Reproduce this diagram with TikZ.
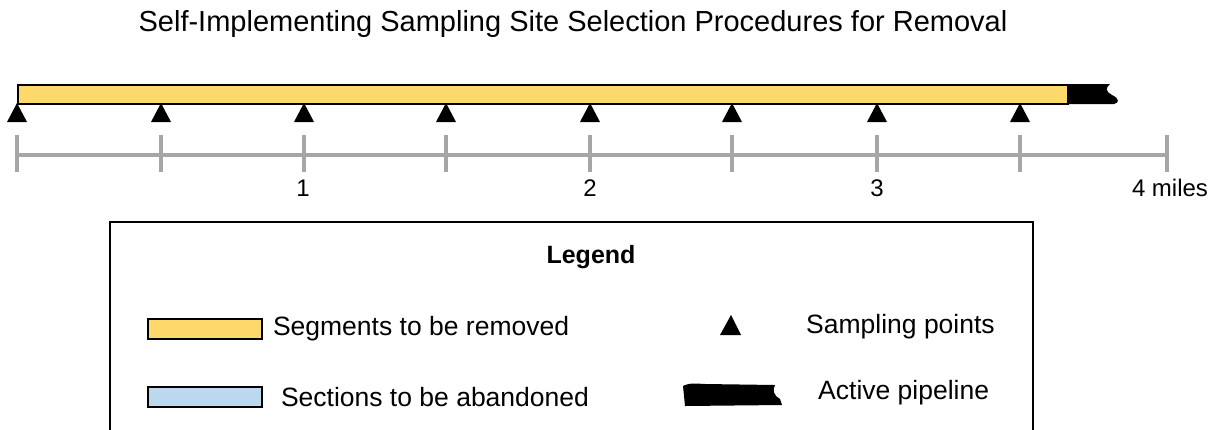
\documentclass[tikz,border=0pt]{standalone}
\usepackage{fontspec}
\setmainfont{Liberation Sans}
\usetikzlibrary{positioning}

\definecolor{segyellow}{RGB}{253,216,107}
\definecolor{abandblue}{RGB}{189,215,238}
\definecolor{scalegray}{RGB}{166,166,166}

\tikzset{
  scaleline/.style={draw=scalegray,line width=3.5pt},
  keybox/.style={draw,line width=1.6pt,minimum width=114pt,minimum height=20pt,inner sep=0pt},
  keytext/.style={font=\fontsize{26.5}{30}\selectfont,inner sep=0pt,anchor=west},
  milelabel/.style={font=\fontsize{24}{28}\selectfont,inner sep=0pt}
}

\begin{document}
\begin{tikzpicture}[x=1pt,y=-1pt]
\useasboundingbox (0,0) rectangle (1212,429);
\clip (0,0) rectangle (1212,429);

\node[font=\fontsize{29}{33}\selectfont,inner sep=0pt] (title) at (573,24) {Self-Implementing Sampling Site Selection Procedures for Removal};

% active pipeline, then the segments to be removed on top
\fill (1060,84) -- (1110,84) .. controls (1105,88) and (1106,92) .. (1112,95)
      .. controls (1119,98) and (1120,103) .. (1114,104) -- (1060,104) -- cycle;
\node[draw,fill=segyellow,line width=1.6pt,minimum width=1050pt,minimum height=19pt,
      inner sep=0pt,anchor=north west] (bar) at (17,84) {};

% sampling points
\foreach \x in {17,161,304,446,590,732,877,1020}
  \fill (\x-10,122) -- (\x+10,122) -- (\x,103) -- cycle;

% scale
\coordinate (s0) at (17,155);
\coordinate (s4) at (1167,155);
\draw[scaleline] (s0) -- (s4);
\foreach \x in {17,161,304,446,590,732,877,1020,1167}
  \draw[scaleline] (\x,135) -- (\x,172);
\foreach \x/\xtext in {303/1,590/2,877/3,1170/4 miles}
  \node[milelabel] at (\x,188) {\xtext};

% legend
\draw[line width=1.6pt] (110,440) -- (110,222) -- (1033,222) -- (1033,440);
\node[font=\bfseries\fontsize{25}{29}\selectfont,inner sep=0pt] (legend) at (591,257) {Legend};

\node[keybox,fill=segyellow] (segkey) at (205,329) {};
\node[keytext,right=10pt of segkey] (segtext) {Segments to be removed};
\node[keybox,fill=abandblue] (abandkey) at (205,397) {};
\node[keytext,right=18pt of abandkey] (abandtext) {Sections to be abandoned};

\fill (720,335) -- (741,335) -- (731,315) -- cycle;
\node[keytext] (samptext) at (806,327) {Sampling points};

\fill (683,386) .. controls (690,382) and (700,384) .. (705,384) -- (775,385)
      .. controls (772,390) and (774,396) .. (780,399) -- (782,405) -- (685,406) -- cycle;
\node[keytext] (activetext) at (818,393) {Active pipeline};
\end{tikzpicture}
\end{document}
